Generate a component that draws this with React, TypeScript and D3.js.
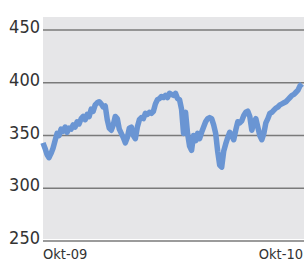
import React, { useEffect, useRef } from 'react';
import * as d3 from 'd3';

// index values, roughly every 2 trading days, Okt-09 .. Okt-10
const values: number[] = [
  343, 338, 332, 329, 333, 338, 345, 352, 350, 356,
  354, 358, 353, 357, 356, 360, 358, 363, 361, 366,
  368, 365, 370, 368, 375, 373, 379, 381, 382, 380,
  377, 378, 365, 357, 355, 360, 368, 366, 356, 352,
  348, 343, 348, 357, 358, 350, 347, 358, 365, 367,
  366, 371, 370, 372, 371, 373, 380, 384, 385, 387,
  386, 388, 386, 390, 389, 388, 390, 385, 384, 375,
  352, 372, 352, 340, 336, 350, 345, 352, 347, 353,
  358, 363, 366, 367, 366, 360, 352, 335, 322, 320,
  335, 342, 348, 353, 350, 346, 355, 363, 362, 364,
  369, 372, 373, 368, 355, 362, 366, 358, 350, 346,
  352, 362, 366, 371, 372, 374, 376, 377, 379, 380,
  381, 382, 384, 386, 388, 389, 391, 393, 397, 399,
];
const yTicks = [250, 300, 350, 400, 450];
const xLabels = ['Okt-09', 'Okt-10'];

const W = 304;
const H = 263;
const font = "'Liberation Sans Narrow', 'DejaVu Sans Condensed', Roboto, sans-serif";

const App: React.FC = () => {
  const ref = useRef<SVGSVGElement | null>(null);

  useEffect(() => {
    if (!ref.current) return;
    const svg = d3.select(ref.current);
    svg.selectAll('*').remove();

    const left = 43;
    const right = 302;
    const x = d3.scaleLinear().domain([0, values.length - 1]).range([left, right]);
    const y = d3.scaleLinear().domain([250, 450]).range([241, 30]);

    // plot background
    svg
      .append('rect')
      .attr('x', left)
      .attr('y', 17)
      .attr('width', W - left)
      .attr('height', 222)
      .attr('fill', '#e6e6e8');

    // gridlines
    svg
      .selectAll('line.grid')
      .data(yTicks)
      .enter()
      .append('line')
      .attr('class', 'grid')
      .attr('x1', left)
      .attr('x2', W)
      .attr('y1', (d: number) => y(d))
      .attr('y2', (d: number) => y(d))
      .attr('stroke', '#7a7a7a')
      .attr('stroke-width', 1.6);

    // y labels
    svg
      .selectAll('text.ytick')
      .data(yTicks)
      .enter()
      .append('text')
      .attr('class', 'ytick')
      .attr('x', 40)
      .attr('y', (d: number) => y(d) + 3)
      .attr('text-anchor', 'end')
      .attr('font-family', font)
      .attr('font-size', 18)
      .attr('fill', '#333')
      .text((d: number) => d);

    // x labels
    svg
      .append('text')
      .attr('x', left)
      .attr('y', 259)
      .attr('font-family', font)
      .attr('font-size', 14.5)
      .attr('fill', '#333')
      .text(xLabels[0]);
    svg
      .append('text')
      .attr('x', W - 1)
      .attr('y', 259)
      .attr('text-anchor', 'end')
      .attr('font-family', font)
      .attr('font-size', 14.5)
      .attr('fill', '#333')
      .text(xLabels[1]);

    const line = d3
      .line<number>()
      .x((_d: number, i: number) => x(i))
      .y((d: number) => y(d));

    svg
      .append('path')
      .datum(values)
      .attr('d', line)
      .attr('fill', 'none')
      .attr('stroke', '#6a95d3')
      .attr('stroke-width', 5.5)
      .attr('stroke-linejoin', 'round');
  }, []);

  return (
    <svg
      ref={ref}
      width={W}
      height={H}
      style={{ position: 'absolute', left: 0, top: 0, background: '#fff' }}
    />
  );
};

export default App;
